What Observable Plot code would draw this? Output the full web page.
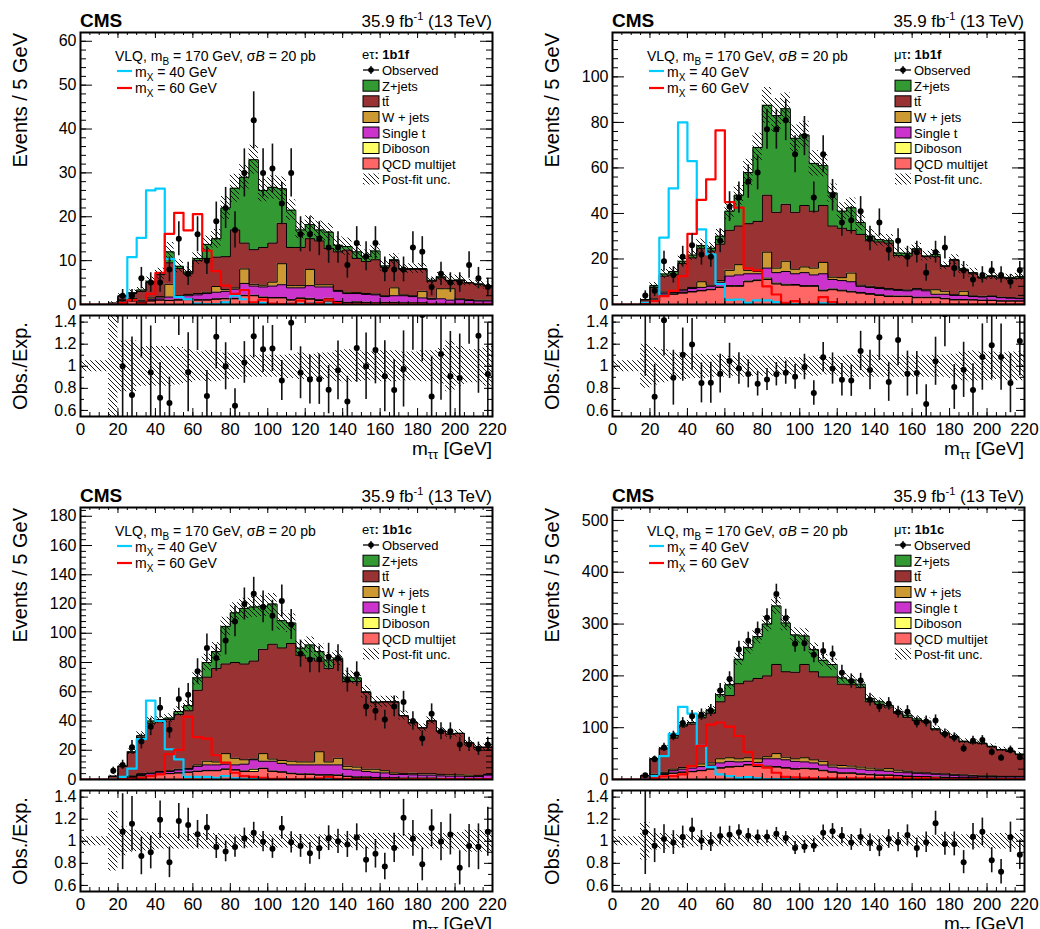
<!DOCTYPE html>
<html>
<head>
<meta charset="utf-8">
<script src="https://cdn.jsdelivr.net/npm/d3@7"></script>
<script src="https://cdn.jsdelivr.net/npm/@observablehq/plot@0.6"></script>
<style>
  html, body { margin: 0; padding: 0; background: #fff; }
  body { width: 1040px; height: 929px; overflow: hidden; font-family: "Liberation Sans", Arial, Helvetica, sans-serif; }
  #root { position: relative; width: 1040px; height: 929px; overflow: hidden; }
</style>
</head>
<body>
<svg width="0" height="0" style="position:absolute">
  <defs>
    <pattern id="hatch" patternUnits="userSpaceOnUse" width="5" height="5">
      <path d="M0,0L5,5M-1,4L1,6M4,-1L6,1" stroke="#000" stroke-width="0.9" fill="none"/>
    </pattern>
  </defs>
</svg>
<div id="root"></div>
<script>
// ---------------- DATA ----------------
const binLow = [0,5,10,15,20,25,30,35,40,45,50,55,60,65,70,75,80,85,90,95,100,105,110,115,120,125,130,135,140,145,150,155,160,165,170,175,180,185,190,195,200,205,210,215];
const binWidth = 5;
const xTickLabels = [0,20,40,60,80,100,120,140,160,180,200,220];
const ratioTickLabels = [0.6,0.8,1.0,1.2,1.4];

const processNames = ["QCD multijet","Diboson","Single t","W + jets","tt\u0304","Z+jets"];
const processColors = ["#ff6666","#ffff66","#cc33cc","#cc9933","#993333","#339933"];

// e tau : 1b1f
const et1b1f_qcd     = [0,0,0,0.1,0.8,0.8,0.5,0.8,1.0,0.9,1.0,1.1,1.0,1.0,1.2,1.3,1.3,2.0,2.0,1.6,1.5,1.5,1.0,1.4,1.2,0.9,0.8,0.6,0.4,0.5,0.4,0.3,0.4,0.4,0.3,0.3,0.3,0.2,0.2,0.2,0.2,0.2,0.2,0.2];
const et1b1f_diboson = [0,0,0,0,0.05,0.05,0.05,0.05,0.05,0.1,0.1,0.1,0.1,0.1,0.1,0.1,0.1,0.1,0.1,0.1,0.1,0.1,0.1,0.1,0.2,0.2,0.6,0.1,0.1,0.1,0.1,0.1,0.1,0.1,0.1,0.1,0.1,0.05,0.05,0.05,0.05,0.05,0.05,0.05];
const et1b1f_singlet = [0,0,0,0.1,0.15,0.25,0.25,0.35,0.45,0.7,0.7,0.8,1.1,1.4,1.5,1.6,2.1,2.7,2.1,2.3,2.6,2.9,2.7,2.3,2.9,2.9,2.6,2.3,2.0,1.9,1.8,1.8,1.3,1.5,1.6,1.4,1.1,0.95,1.05,0.75,0.85,0.65,0.55,0.55];
const et1b1f_wjets   = [0,0,0,0,0.2,0.3,0.2,0.3,0.3,2.9,0.2,0.3,0.3,0.3,1.3,0.4,0.3,3.3,0.4,0.4,0.9,4.8,0.5,0.5,3.7,0.5,0.5,0.2,0.3,0.2,0.2,0.2,0.2,1.8,0.2,0.2,1.5,0.2,2.3,2.6,0.2,0.2,0.2,0.2];
const et1b1f_ttbar   = [0,0,0,0.1,0.7,1.1,2.0,3.5,5.0,4.9,6.2,4.7,7.5,7.7,6.7,7.5,13.2,5.9,7.9,8.6,8.9,9.2,8.7,8.7,7.0,10.0,8.3,8.8,9.6,7.8,7.3,7.8,6.5,6.2,5.8,6.0,5.0,3.9,2.5,1.8,4.2,3.8,3.6,3.2];
const et1b1f_zjets   = [0,0,0,0,0.1,0.2,0.3,0.3,0.2,2.5,0.5,0.4,0.5,3.2,4.2,11.1,9.5,15.0,20.5,13.0,12.7,7.9,8.5,4.0,3.2,2.5,3.7,1.5,0.8,1.5,1.2,2.0,0.3,0.2,0.2,0.2,0.2,0.2,0.2,0.1,0.1,0.1,0.1,0.1];
const et1b1f_sig40   = [0,0,0,0,0.3,10.8,15.2,26.0,26.4,10.4,1.7,1.2,0.2,0.1,0.1,0.5,2.0,1.2,0.1,0.3,0.1,0.1,0.2,0.1,0.3,0.1,0.2,0,0,0,0,0,0,0,0,0,0,0,0,0,0,0,0,0];
const et1b1f_sig60   = [0,0,0,0,0.3,1.0,0.2,2.4,7.2,16.1,20.9,16.9,20.6,12.3,7.6,4.3,2.4,3.3,0.5,1.1,0.2,0.1,0.2,0.9,0.2,0.4,1.1,0.3,0.05,0.05,0.05,0.05,0.05,0.05,0.05,0.05,0.05,0.05,0.05,0.05,0.05,0.05,0.05,0.05];
const et1b1f_obs     = [null,null,null,null,2,2,6,5,5,8,15,7,16,10,19,22,17,30,42,30,31,23,30,16,16,15,13,13,9,14,11,14,8,8,8,13,12,4,7,5,5,9,6,4];
const et1b1f_unc     = [0.05,0.05,0.05,1.0,0.23,0.23,0.18,0.18,0.18,0.18,0.17,0.15,0.13,0.14,0.14,0.12,0.12,0.1,0.1,0.1,0.1,0.1,0.11,0.12,0.11,0.12,0.12,0.14,0.15,0.14,0.13,0.13,0.14,0.14,0.13,0.13,0.14,0.14,0.16,0.23,0.18,0.15,0.15,0.18];

// mu tau : 1b1f
const mt1b1f_qcd     = [0,0,0,0.2,1.5,4,4.5,5,5.5,6,6.5,7.5,8,8,10,10.5,11,9,8.5,8.5,8,8,6,6.5,6,5.5,5,4.5,4,3.5,3.5,3.5,3,3,3,2.5,2,2,2,1.8,1.8,1.5,1.5,1.5];
const mt1b1f_diboson = [0,0,0,0.05,0.1,0.2,0.2,0.2,0.2,0.2,0.2,0.2,0.3,0.3,0.3,0.3,0.6,0.4,0.4,0.3,0.3,0.3,0.3,0.3,0.3,0.3,0.3,0.3,0.3,0.3,0.2,0.2,0.2,0.2,0.2,0.2,0.2,0.2,0.1,0.1,0.1,0.1,0.1,0.1];
const mt1b1f_singlet = [0,0,0,0.05,0.4,0.8,0.6,0.8,1.3,1.3,1.3,2.1,4.2,4.7,3.2,2.7,4.4,4.6,5.6,4.7,5.7,4.7,7.2,4.2,4.2,4.2,2.7,2.7,2.7,2.7,2.5,2.3,3.3,2.8,1.3,1.8,1.8,1.8,1.4,1.4,1.6,1.4,1.2,1.0];
const mt1b1f_wjets   = [0,0,0,0,0.5,0.5,0.5,0.5,0.5,2.5,0.5,0.7,2.5,4.5,1.5,1.0,7.0,2.0,4.5,2.0,2.5,3.0,5.0,1.0,1.3,3.8,0.5,0.5,0.5,0.5,0.4,0.4,0.5,0.5,2.0,1.3,0.3,1.8,0.3,0.3,0.3,0.2,0.2,0.2];
const mt1b1f_ttbar   = [0,0,0,1.7,5.0,7.0,7.2,11.5,13.0,14.5,15.0,16.0,17.6,17.0,20.5,22.0,25.0,24.5,25.0,25.0,27.0,25.0,25.0,22.5,21.7,18.7,22.3,20.0,20.0,20.0,14.9,14.9,17.0,14.5,14.5,11.0,15.2,9.2,9.7,8.0,8.5,8.4,8.4,8.7];
const mt1b1f_zjets   = [0,0,0,0.2,0.8,0.9,1.5,1.0,1.2,1.4,1.2,3.5,8.4,13.5,22.5,32.5,39.5,42.5,42.0,32.5,31.0,21.0,17.5,14.5,7.5,10.0,5.2,2.0,1.0,1.0,1.1,1.2,0.5,0.3,1.0,0.2,0.2,0.5,0.5,0.4,0.3,0.4,0.4,0.7];
const mt1b1f_sig40   = [0,0,0,0.7,1.5,29.4,51,80,63,33,22,9,2,2.2,0.7,1.8,1.8,1.0,0.3,0.2,0.1,0.1,0.5,0.2,0,0,0,0,0,0,0,0,0,0,0,0,0,0,0,0,0,0,0,0];
const mt1b1f_sig60   = [0,0,0,0.2,1.5,3.7,6,12.5,31,46,55,76.5,45,42.6,15.9,15,8,4.4,0.7,1.5,0.2,0.3,3.2,1.0,0.1,0.1,0.1,0.1,0.1,0.1,0.1,0.1,0.1,0.1,0.1,0.1,0.1,0.1,0.1,0.1,0.1,0.1,0.1,0.1];
const mt1b1f_obs     = [null,null,null,4,6,19,13,21,26,22,21,28,43,47,54,58,77,77,81,66,74,47,66,48,36,37,41,29,36,24,28,21,23,14,23,25,16,15,11,13,15,13,10,15];
const mt1b1f_unc     = [0.05,0.05,0.05,0.2,0.17,0.15,0.12,0.12,0.11,0.11,0.1,0.1,0.09,0.09,0.1,0.09,0.09,0.09,0.08,0.08,0.08,0.09,0.08,0.08,0.09,0.1,0.1,0.1,0.1,0.1,0.1,0.1,0.1,0.1,0.1,0.1,0.11,0.13,0.14,0.13,0.13,0.12,0.13,0.13];

// e tau : 1b1c
const et1b1c_qcd     = [0,0,0,0.3,0.3,1.5,2.5,2.7,3.5,4,4.5,5,5.5,6,6,7,6.5,5.5,5.5,7.5,5.5,5,4,3.5,3.5,3,3,2.8,2,1.5,1.5,1.2,1.0,1.0,0.8,0.8,0.8,0.8,0.6,0.5,0.5,0.5,0.5,0.5];
const et1b1c_diboson = [0,0,0,0.05,0.05,0.1,0.1,0.1,0.1,0.1,0.1,0.1,0.2,0.2,0.2,0.2,0.2,0.3,1.5,0.3,0.3,0.3,0.3,0.3,0.3,0.3,0.3,0.3,0.3,0.3,0.3,0.2,0.2,0.2,0.2,0.2,0.2,0.2,0.2,0.1,0.1,0.1,0.1,0.1];
const et1b1c_singlet = [0,0,0,0.15,0.15,0.4,0.9,1.2,1.4,1.4,1.9,1.9,3.3,3.8,3.8,3.3,3.3,4.7,6.5,4.7,6.7,5.7,5.7,6.2,6.2,6.7,6.7,6.9,4.7,4.7,3.7,3.6,3.3,2.3,2.5,2.2,2.0,2.0,1.7,1.7,1.7,1.4,1.4,2.4];
const et1b1c_wjets   = [0,0,0,0.1,0.5,0.5,0.5,0.5,0.5,0.5,0.5,0.5,1.0,2.5,2.0,7.2,4.5,3.0,0.5,5.2,1.5,2.0,2.5,2.0,2.0,9.0,2.0,4.5,2.0,2.0,1.5,2.0,1.5,1.0,0.5,1.0,1.0,1.0,1.0,1.0,0.9,1.0,0.8,0.5];
const et1b1c_ttbar   = [0,0,0,1.6,8.0,16.0,25.0,34.0,34.0,35.0,37.5,39.5,51.0,57.5,64.0,61.3,65.5,65.5,67.0,71.3,78.5,77.0,80.5,73.0,71.0,62.0,64.0,67.5,58.0,58.5,52.5,45.5,47.0,48.5,39.5,34.6,31.2,36.0,29.5,27.7,28.3,22.0,19.2,18.5];
const et1b1c_zjets   = [0,0,0,0.1,0.2,0.5,1.0,1.5,1.5,1.0,2.0,3.5,8.5,10.0,11.5,25.7,34.0,38.0,37.0,29.5,27.5,18.6,14.0,4.8,9.0,6.5,5.7,1.0,3.0,2.5,0.5,0.5,0.2,0.2,0.2,0.2,0.2,0.2,0.1,0.1,0.1,0.1,0.1,0.1];
const et1b1c_sig40   = [0,0,0,0.3,1.8,7.4,27.6,54,40,20.7,13.8,1.8,1.8,1.8,1.2,2.3,0.8,0.5,0.5,0.3,0.3,0.3,0.3,0.3,0.3,0.3,0.3,0,0,0,0,0,0,0,0,0,0,0,0,0,0,0,0,0];
const et1b1c_sig60   = [0,0,0,0,0.2,0.5,1,2.3,3.5,17.3,20.3,43,29,28,16.6,11.5,4.6,2.3,1.8,1.2,0.5,0.5,0.3,0.3,0.5,0.8,1.6,0.5,0.2,0.2,0.2,0.2,0.2,0.2,0.2,0.2,0.2,0.2,0.2,0.2,0.2,0.2,0.2,0.2];
const et1b1c_obs     = [null,null,null,6,10,22,26,36,49,34,55,58,74,90,83,95,108,120,127,118,112,122,106,86,82,82,84,83,68,72,50,47,41,50,53,40,28,45,33,33,24,24,21,24];
const et1b1c_unc     = [0.04,0.04,0.04,0.27,0.13,0.1,0.09,0.08,0.07,0.07,0.07,0.07,0.07,0.07,0.07,0.06,0.06,0.06,0.06,0.06,0.06,0.06,0.06,0.06,0.06,0.06,0.06,0.06,0.06,0.06,0.07,0.07,0.07,0.07,0.07,0.07,0.07,0.07,0.07,0.07,0.08,0.1,0.1,0.1];

// mu tau : 1b1c
const mt1b1c_qcd     = [0,0,0,0.5,5,10,12,14,15,17,20,22,24,25,28,25,24,24,22,20,21,20,17,14,12,12,10,9,8,8,7,6,5,5,4,4,3,3,3,2.5,2.5,2,2,2];
const mt1b1c_diboson = [0,0,0,0.1,0.3,0.5,0.5,0.5,0.5,0.5,0.5,0.7,0.7,0.7,0.8,0.8,2.0,1,1,1,1,1,1,1,1,1,1,1,1,1,0.8,0.8,0.8,0.7,0.7,0.6,0.6,0.5,0.5,0.5,0.5,0.5,0.5,0.5];
const mt1b1c_singlet = [0,0,0,0.4,2.7,1.5,4.5,5.5,6.5,7.5,7.5,9.3,10.3,8.3,6.2,7.2,14,15,15,14,12,11,10,9,9,9,9,8,8,7,6.2,6.2,6.2,5.3,5.3,4.4,4.4,3.5,3,3,3,2.5,2.5,2.5];
const mt1b1c_wjets   = [0,0,0,0.5,2,2,3,3,3,5,4,8,7,6,7,7,4,10,5,5,8,6,7,4,5,4,4,4,3,5,4,3,2,2,2,2,2,2,1.5,1,1,1,1,1];
const mt1b1c_ttbar   = [0,0,0,5.5,30,45,60,80,82,89,96,110,120,145,148,155,156,172,165,167,180,170,163,170,157,157,154,128,125,119,110,104,100,98,84,77,71,64,63,62,56,51,48,42];
const mt1b1c_zjets   = [0,0,0,0.4,0.6,1.8,5,2,3,5,6,14,21,47,65,81,100,113,94,72,55,43,32,24,12,9,6,6,5,3,3,4,3,2,2,2,2,1,1,1,1,1,1,1];
const mt1b1c_sig40   = [0,0,0,0.5,6.5,45,88,140,127,65,24,10,6.5,3,4.5,2,1,1,1,1,1,0.5,0.5,0.5,0.5,0.5,0.5,0.5,0.5,0.5,0.5,0,0,0,0,0,0,0,0,0,0,0,0,0];
const mt1b1c_sig60   = [0,0,0,0,2,6,6.5,10,26,65,106,110,102,84,53,28,23,13,5,4,3,2,2,2,2,2,2,2,2,2,2,2,2,2,2,1,1,1,1,1,1,1,1,1];
const mt1b1c_obs     = [null,null,null,8,39,62,84,109,122,125,133,172,194,251,268,287,312,358,311,262,263,241,248,242,206,190,191,154,141,146,130,131,110,112,114,88,81,60,75,76,53,42,57,43];
const mt1b1c_unc     = [0.04,0.04,0.04,0.17,0.08,0.07,0.06,0.06,0.05,0.05,0.05,0.05,0.05,0.05,0.05,0.05,0.05,0.05,0.05,0.05,0.05,0.05,0.05,0.05,0.05,0.05,0.05,0.05,0.05,0.05,0.05,0.05,0.05,0.05,0.05,0.06,0.06,0.06,0.06,0.06,0.07,0.07,0.07,0.07];

const panels = [
  {ox: 0,   oy: 0,   channel: "eτ", cat: "1b1f", ymax: 62,    yMajor: [0,10,20,30,40,50,60],    yMinorStep: 2,
   comps: [et1b1f_qcd, et1b1f_diboson, et1b1f_singlet, et1b1f_wjets, et1b1f_ttbar, et1b1f_zjets],
   sig40: et1b1f_sig40, sig60: et1b1f_sig60, obs: et1b1f_obs, unc: et1b1f_unc},
  {ox: 532, oy: 0,   channel: "μτ", cat: "1b1f", ymax: 119.5, yMajor: [0,20,40,60,80,100],      yMinorStep: 4,
   comps: [mt1b1f_qcd, mt1b1f_diboson, mt1b1f_singlet, mt1b1f_wjets, mt1b1f_ttbar, mt1b1f_zjets],
   sig40: mt1b1f_sig40, sig60: mt1b1f_sig60, obs: mt1b1f_obs, unc: mt1b1f_unc},
  {ox: 0,   oy: 475, channel: "eτ", cat: "1b1c", ymax: 186,   yMajor: [0,20,40,60,80,100,120,140,160,180], yMinorStep: 4,
   comps: [et1b1c_qcd, et1b1c_diboson, et1b1c_singlet, et1b1c_wjets, et1b1c_ttbar, et1b1c_zjets],
   sig40: et1b1c_sig40, sig60: et1b1c_sig60, obs: et1b1c_obs, unc: et1b1c_unc},
  {ox: 532, oy: 475, channel: "μτ", cat: "1b1c", ymax: 525,   yMajor: [0,100,200,300,400,500],  yMinorStep: 20,
   comps: [mt1b1c_qcd, mt1b1c_diboson, mt1b1c_singlet, mt1b1c_wjets, mt1b1c_ttbar, mt1b1c_zjets],
   sig40: mt1b1c_sig40, sig60: mt1b1c_sig60, obs: mt1b1c_obs, unc: mt1b1c_unc}
];

// ---------------- DRAWING ----------------
const FONT = "'Liberation Sans', Arial, Helvetica, sans-serif";
const root = document.getElementById("root");
const SVGW = 510, ML = 80, MR = 18, FW = SVGW - ML - MR;       // frame 412 px wide
const MAIN_H = 310, MAIN_MT = 32, MAIN_MB = 6, FH = MAIN_H - MAIN_MT - MAIN_MB; // 272
const R_TOP = 300, R_H = 145, R_MT = 15, R_MB = 29, RFH = R_H - R_MT - R_MB;    // 101
const xMinor = d3.range(0, 221, 5), xMajor = xTickLabels;

function frameTicks(fh, fw, yMaj, yMin, lx, lxm, ly, lym) {
  const st = {stroke: "black", strokeWidth: 1};
  return [
    Plot.tickX(xMinor, {x: d => d, insetTop: fh - lxm, ...st}),
    Plot.tickX(xMinor, {x: d => d, insetBottom: fh - lxm, ...st}),
    Plot.tickX(xMajor, {x: d => d, insetTop: fh - lx, ...st}),
    Plot.tickX(xMajor, {x: d => d, insetBottom: fh - lx, ...st}),
    Plot.tickY(yMin, {y: d => d, insetRight: fw - lym, ...st}),
    Plot.tickY(yMin, {y: d => d, insetLeft: fw - lym, ...st}),
    Plot.tickY(yMaj, {y: d => d, insetRight: fw - ly, ...st}),
    Plot.tickY(yMaj, {y: d => d, insetLeft: fw - ly, ...st})
  ];
}

function drawPanel(p) {
  const n = binLow.length;
  const pts = binLow.concat([binLow[n - 1] + binWidth]).map((x, i) => ({x, j: Math.min(i, n - 1)}));
  let cum = new Array(n).fill(0);
  const layers = p.comps.map((v, k) => {
    const lo = cum.slice();
    cum = cum.map((y, i) => y + v[i]);
    return {lo, hi: cum.slice(), color: processColors[k]};
  });
  const total = cum;
  const obsData = binLow.map((x, i) => ({x: x + binWidth / 2, n: p.obs[i], tot: total[i]})).filter(d => d.n != null);

  const marks = [];
  for (const L of layers)
    marks.push(Plot.areaY(pts, {x: "x", y1: d => L.lo[d.j], y2: d => L.hi[d.j], curve: "step-after", fill: L.color, clip: true}));
  for (const L of layers)
    marks.push(Plot.lineY(pts, {x: "x", y: d => L.hi[d.j], curve: "step-after", stroke: "black", strokeWidth: 1, clip: true}));
  marks.push(Plot.areaY(pts, {x: "x", y1: d => total[d.j] * (1 - p.unc[d.j]), y2: d => total[d.j] * (1 + p.unc[d.j]), curve: "step-after", fill: "url(#hatch)", clip: true}));
  marks.push(Plot.lineY(pts, {x: "x", y: d => p.sig40[d.j], curve: "step-after", stroke: "#00ccff", strokeWidth: 2.2, clip: true}));
  marks.push(Plot.lineY(pts, {x: "x", y: d => p.sig60[d.j], curve: "step-after", stroke: "#ff0000", strokeWidth: 2.2, clip: true}));
  marks.push(Plot.ruleX(obsData, {x: "x", y1: d => d.n - Math.sqrt(d.n), y2: d => d.n + Math.sqrt(d.n), stroke: "#111", strokeWidth: 1.6, clip: true}));
  marks.push(Plot.dot(obsData, {x: "x", y: "n", r: 3, fill: "black", clip: true}));
  const yMinor = d3.range(0, p.ymax, p.yMinorStep);
  marks.push(...frameTicks(FH, FW, p.yMajor, yMinor, 6, 3, 12, 6));
  marks.push(Plot.axisY(p.yMajor, {tickSize: 0, tickPadding: 4, fontSize: 16, label: null}));
  marks.push(Plot.frame({stroke: "black", strokeWidth: 2}));

  const main = Plot.plot({
    width: SVGW, height: MAIN_H,
    marginLeft: ML, marginRight: MR, marginTop: MAIN_MT, marginBottom: MAIN_MB,
    x: {domain: [0, 220], axis: null},
    y: {domain: [0, p.ymax]},
    style: {background: "transparent", fontFamily: FONT, overflow: "visible", color: "black"},
    marks
  });
  Object.assign(main.style, {position: "absolute", left: p.ox + "px", top: p.oy + "px", maxWidth: "none"});
  root.appendChild(main);

  const rData = obsData.filter(d => d.tot > 0).map(d => ({x: d.x, r: d.n / d.tot, e: Math.sqrt(d.n) / d.tot}));
  const rmarks = [
    Plot.areaY(pts, {x: "x", y1: d => 1 - p.unc[d.j], y2: d => 1 + p.unc[d.j], curve: "step-after", fill: "url(#hatch)", clip: true}),
    Plot.ruleX(rData, {x: "x", y1: d => d.r - d.e, y2: d => d.r + d.e, stroke: "#111", strokeWidth: 1.6, clip: true}),
    Plot.dot(rData, {x: "x", y: "r", r: 3, fill: "black", clip: true}),
    ...frameTicks(RFH, FW, ratioTickLabels, d3.range(0.6, 1.45, 0.1), 8, 4, 8, 4),
    Plot.axisY(ratioTickLabels, {tickSize: 0, tickPadding: 4, fontSize: 16, label: null, tickFormat: d => (Math.abs(d - 1) < 1e-9 ? "1" : d.toFixed(1))}),
    Plot.axisX(xTickLabels, {tickSize: 0, tickPadding: 6, fontSize: 17, label: null}),
    Plot.frame({stroke: "black", strokeWidth: 2})
  ];
  const ratio = Plot.plot({
    width: SVGW, height: R_H,
    marginLeft: ML, marginRight: MR, marginTop: R_MT, marginBottom: R_MB,
    x: {domain: [0, 220]},
    y: {domain: [0.545, 1.46]},
    style: {background: "transparent", fontFamily: FONT, overflow: "visible", color: "black"},
    marks: rmarks
  });
  Object.assign(ratio.style, {position: "absolute", left: p.ox + "px", top: (p.oy + R_TOP) + "px", maxWidth: "none"});
  root.appendChild(ratio);
}

panels.forEach(drawPanel);

// ---------------- TEXT / LEGEND OVERLAY ----------------
const overlay = d3.select(root).append("svg")
  .attr("width", 1040).attr("height", 929)
  .style("position", "absolute").style("left", 0).style("top", 0)
  .style("font-family", FONT).style("pointer-events", "none");

function rich(g, x, y, size, anchor, parts) {
  const t = g.append("text").attr("x", x).attr("y", y).attr("font-size", size).attr("text-anchor", anchor).attr("fill", "black");
  let shift = 0;
  for (const part of parts) {
    const s = typeof part === "string" ? {t: part} : part;
    const target = s.shift || 0;
    const ts = t.append("tspan").text(s.t).attr("dy", target - shift);
    shift = target;
    if (s.size) ts.attr("font-size", s.size);
    if (s.weight) ts.attr("font-weight", s.weight);
    if (s.italic) ts.attr("font-style", "italic");
  }
  return t;
}

const legendRows = [70, 85.7, 101.3, 117, 132.5, 148, 163.5, 179];

for (const p of panels) {
  const g = overlay.append("g").attr("transform", `translate(${p.ox},${p.oy})`);
  rich(g, 80, 27, 19, "start", [{t: "CMS", weight: "bold"}]);
  rich(g, 492, 27, 17, "end", ["35.9 fb", {t: "-1", shift: -7, size: 11}, {t: " (13 TeV)", shift: 0}]);
  g.append("text").attr("transform", "translate(27,33) rotate(-90)").attr("text-anchor", "end")
    .attr("font-size", 20).text("Events / 5 GeV");
  g.append("text").attr("transform", "translate(27,366) rotate(-90)").attr("text-anchor", "middle")
    .attr("font-size", 20).text("Obs./Exp.");
  rich(g, 492, 455, 19, "end", ["m", {t: "ττ", shift: 4, size: 13}, {t: " [GeV]", shift: 0}]);

  // left legend (signals)
  rich(g, 115, 61, 14, "start", ["VLQ, m", {t: "B", shift: 4, size: 10}, {t: " = 170 GeV, σ", shift: 0}, {t: "B", italic: true}, " = 20 pb"]);
  g.append("line").attr("x1", 117).attr("x2", 132).attr("y1", 71).attr("y2", 71).attr("stroke", "#00ccff").attr("stroke-width", 2.2);
  rich(g, 135, 77, 14, "start", ["m", {t: "X", shift: 4, size: 10}, {t: " = 40 GeV", shift: 0}]);
  g.append("line").attr("x1", 117).attr("x2", 132).attr("y1", 88).attr("y2", 88).attr("stroke", "#ff0000").attr("stroke-width", 2.2);
  rich(g, 135, 93, 14, "start", ["m", {t: "X", shift: 4, size: 10}, {t: " = 60 GeV", shift: 0}]);

  // right legend (backgrounds)
  rich(g, 362, 59, 13, "start", [p.channel, {t: ": " + p.cat, weight: "bold"}]);
  const c0 = legendRows[0];
  g.append("line").attr("x1", 363).attr("x2", 379).attr("y1", c0).attr("y2", c0).attr("stroke", "black").attr("stroke-width", 1.3);
  g.append("line").attr("x1", 371).attr("x2", 371).attr("y1", c0 - 4).attr("y2", c0 + 4).attr("stroke", "black").attr("stroke-width", 1.3);
  g.append("circle").attr("cx", 371).attr("cy", c0).attr("r", 2.8).attr("fill", "black");
  rich(g, 382, c0 + 5, 13, "start", ["Observed"]);
  [5, 4, 3, 2, 1, 0].forEach((k, r) => {
    const c = legendRows[r + 1];
    g.append("rect").attr("x", 363).attr("y", c - 5.5).attr("width", 16).attr("height", 11)
      .attr("fill", processColors[k]).attr("stroke", "black").attr("stroke-width", 1);
    rich(g, 382, c + 5, 13, "start", [processNames[k]]);
  });
  const cl = legendRows[7];
  g.append("rect").attr("x", 363).attr("y", cl - 5.5).attr("width", 16).attr("height", 11).attr("fill", "url(#hatch)");
  rich(g, 382, cl + 5, 13, "start", ["Post-fit unc."]);
}
</script>
</body>
</html>
